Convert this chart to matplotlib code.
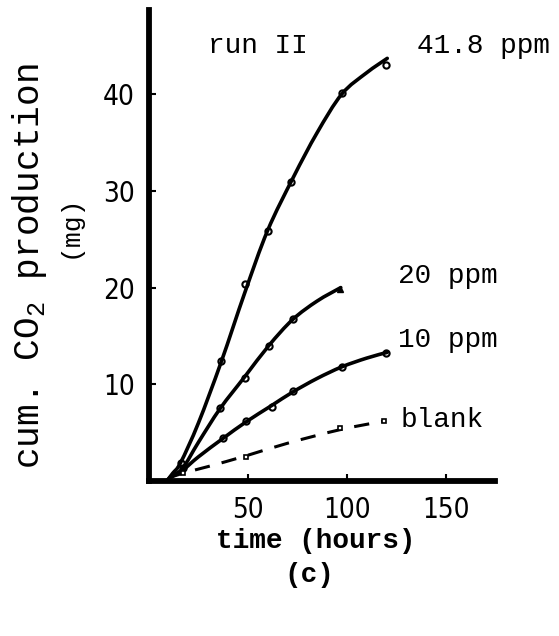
import matplotlib
matplotlib.use("Agg")
import matplotlib.pyplot as plt
from matplotlib.path import Path
from matplotlib.patches import PathPatch

# Measured points (time in hours, cumulative CO2 in mg)
t_418 = [16, 36.5, 48.5, 60, 72, 97.5, 120]
y_418 = [1.9, 12.4, 20.4, 25.9, 30.9, 40.1, 43.0]
t_20 = [17, 36, 48.5, 60.6, 72.7, 96.5]
y_20 = [1.3, 7.5, 10.6, 14.0, 16.7, 19.9]
t_10 = [37.4, 49, 62, 72.7, 97.5, 119.7]
y_10 = [4.4, 6.2, 7.7, 9.3, 11.8, 13.2]
t_blank = [17, 49, 96.5, 119]
y_blank = [0.8, 2.5, 5.5, 6.2]

# Hand-drawn fitted curves through the measurements
ct_418 = [9, 12, 16, 25, 36.5, 48.5, 60, 73, 85, 97.5, 110, 120.5]
cy_418 = [0, 0.8, 1.9, 6.0, 12.3, 19.5, 25.9, 31.4, 36.0, 40.0, 42.2, 43.7]
ct_20 = [9, 12, 17, 25, 36, 48.5, 60.6, 72.7, 85, 97]
cy_20 = [0, 0.6, 1.3, 4.0, 7.5, 10.8, 14.0, 16.7, 18.6, 20.0]
ct_10 = [9, 12, 17, 25, 37.4, 49, 62, 72.7, 85, 97.5, 110, 120.5]
cy_10 = [0, 0.5, 1.1, 2.5, 4.4, 6.1, 7.8, 9.2, 10.6, 11.8, 12.7, 13.3]
ct_blank = [10, 17, 30, 49, 70, 96.5, 119]
cy_blank = [0.3, 0.8, 1.5, 2.6, 3.9, 5.3, 6.2]

x_ticks = [50, 100, 150]
y_ticks = [10, 20, 30, 40]

mono = ["Liberation Mono", "DejaVu Sans Mono"]
plt.rcParams["mathtext.fontset"] = "custom"
plt.rcParams["mathtext.rm"] = "Liberation Mono"


def smooth_path(xs, ys):
    """Catmull-Rom curve through the given points, as cubic Bezier segments."""
    pts = list(zip(xs, ys))
    verts = [pts[0]]
    codes = [Path.MOVETO]
    n = len(pts)
    for i in range(n - 1):
        p0 = pts[i - 1] if i > 0 else pts[i]
        p1 = pts[i]
        p2 = pts[i + 1]
        p3 = pts[i + 2] if i + 2 < n else pts[i + 1]
        c1 = (p1[0] + (p2[0] - p0[0]) / 6, p1[1] + (p2[1] - p0[1]) / 6)
        c2 = (p2[0] - (p3[0] - p1[0]) / 6, p2[1] - (p3[1] - p1[1]) / 6)
        verts += [c1, c2, p2]
        codes += [Path.CURVE4] * 3
    return Path(verts, codes)


fig = plt.figure(figsize=(5.59, 6.36), dpi=100)
ax = fig.add_axes([149 / 559, 1 - 481 / 636, 346 / 559, 471 / 636])
ax.set_xlim(0, 175)
ax.set_ylim(0, 48.7)

for sp in ("top", "right"):
    ax.spines[sp].set_visible(False)
for sp in ("left", "bottom"):
    ax.spines[sp].set_linewidth(4.2)
    ax.spines[sp].set_capstyle("projecting")

lw = 2.6
for cx, cy in ((ct_418, cy_418), (ct_20, cy_20), (ct_10, cy_10)):
    ax.add_patch(PathPatch(smooth_path(cx, cy), fill=False, ec="black", lw=lw,
                           capstyle="round", joinstyle="round"))
ax.add_patch(PathPatch(smooth_path(ct_blank, cy_blank), fill=False, ec="black",
                       lw=2.2, ls=(0, (5, 4))))

mk = dict(ls="none", marker="o", ms=4.5, mfc="none", mec="black", mew=1.5, zorder=3)
ax.plot(t_418, y_418, **mk)
ax.plot(t_20[:-1], y_20[:-1], **mk)
ax.plot(t_20[-1:], y_20[-1:], ls="none", marker="^", ms=5, color="black", zorder=3)
ax.plot(t_10, y_10, **mk)
ax.plot(t_blank, y_blank, ls="none", marker="s", ms=3.5, mfc="white", mec="black",
        mew=1.2, zorder=3)

ax.set_xticks(x_ticks)
ax.set_yticks(y_ticks)
ax.tick_params(direction="in", length=5, width=1.5, pad=10)
for lab in ax.get_xticklabels() + ax.get_yticklabels():
    lab.set_family("DejaVu Sans")
    lab.set_stretch("condensed")
    lab.set_fontsize(20)
ax.tick_params(axis="x", pad=11)

ax.text(29.8, 44.3, "run II", family=mono, fontsize=20)
ax.text(135.4, 44.3, "41.8 ppm", family=mono, fontsize=20)
ax.text(126, 20.5, "20 ppm", family=mono, fontsize=20)
ax.text(126, 13.9, "10 ppm", family=mono, fontsize=20)
ax.text(127, 5.6, "blank", family=mono, fontsize=20)

fig.text(30 / 559, 1 - 266 / 636, "cum. CO$_2$ production", family=mono, fontsize=26,
         rotation=90, ha="center", va="center")
fig.text(70 / 559, 1 - 226 / 636, "(mg)", family=mono, fontsize=19,
         rotation=90, ha="center", va="center")
fig.text(316 / 559, 1 - 541 / 636, "time (hours)", family=mono, fontsize=20,
         fontweight="bold", ha="center", va="center")
fig.text(309 / 559, 1 - 575 / 636, "(c)", family=mono, fontsize=20,
         fontweight="bold", ha="center", va="center")

fig.savefig("out.png", dpi=100)
